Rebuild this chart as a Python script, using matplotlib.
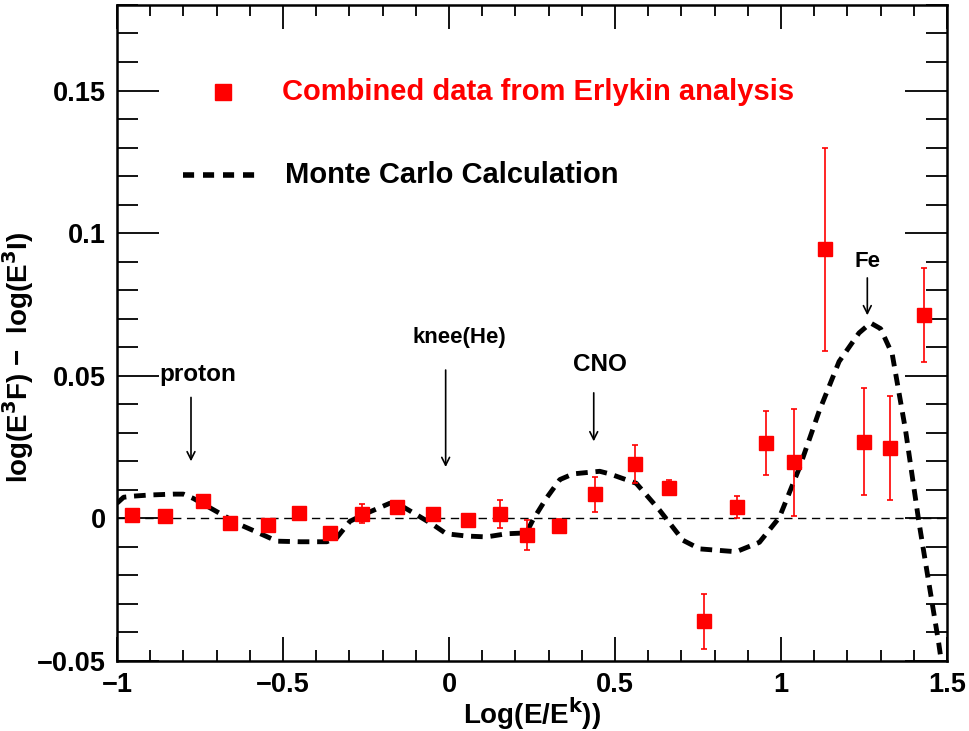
import numpy as np
import matplotlib
matplotlib.use("Agg")
import matplotlib.pyplot as plt
from matplotlib.ticker import MultipleLocator, FuncFormatter

plt.rcParams["font.family"] = ["Liberation Sans", "DejaVu Sans"]
plt.rcParams["font.weight"] = "bold"
plt.rcParams["mathtext.default"] = "bf"

# dados
x_dados = [-0.956, -0.855, -0.74, -0.66, -0.544, -0.452, -0.358, -0.261, -0.157,
           -0.047, 0.056, 0.154, 0.236, 0.33, 0.44, 0.56, 0.663, 0.767, 0.867,
           0.955, 1.038, 1.134, 1.25, 1.329, 1.43]
y_dados = [0.0012, 0.0007, 0.006, -0.0018, -0.0023, 0.002, -0.005, 0.0016, 0.004,
           0.0016, -0.0007, 0.0016, -0.0057, -0.0028, 0.0085, 0.019, 0.0108, -0.0361,
           0.004, 0.0263, 0.0196, 0.0943, 0.0269, 0.0247, 0.0713]
erro_dados = [0.0, 0.0, 0.0, 0.0012, 0.0, 0.0, 0.0, 0.0034, 0.0,
              0.0, 0.0024, 0.0049, 0.0053, 0.0025, 0.0061, 0.0066, 0.0025, 0.0097,
              0.004, 0.0112, 0.0186, 0.0356, 0.0188, 0.0182, 0.0165]

# curva Monte Carlo
x_mc = [-1.0, -0.98, -0.95, -0.9, -0.83, -0.8, -0.77, -0.7, -0.63, -0.579, -0.518,
        -0.448, -0.368, -0.338, -0.298, -0.248, -0.178, -0.148, -0.098, -0.048,
        -0.008, 0.053, 0.113, 0.173, 0.233, 0.253, 0.293, 0.334, 0.374, 0.454,
        0.484, 0.564, 0.634, 0.705, 0.755, 0.865, 0.935, 0.995, 1.055, 1.115,
        1.175, 1.235, 1.27, 1.30, 1.335, 1.375, 1.415, 1.445, 1.475, 1.49]
y_mc = [0.0053, 0.0074, 0.0078, 0.0082, 0.0085, 0.0085, 0.007, 0.0024, -0.0022,
        -0.0048, -0.008, -0.0082, -0.0082, -0.0068, -0.001, 0.0018, 0.0053, 0.0047,
        0.0013, -0.0022, -0.0054, -0.0062, -0.0065, -0.0054, -0.0051, -0.0005,
        0.007, 0.0136, 0.0156, 0.0165, 0.0156, 0.0123, 0.0029, -0.0077, -0.0107,
        -0.0117, -0.0084, 0.0003, 0.0176, 0.0376, 0.055, 0.065, 0.0685, 0.0665,
        0.0576, 0.031, -0.001, -0.0224, -0.0437, -0.056]

# anotações: texto, posição do texto, seta (x, y_topo, y_base)
rotulos = ["proton", "knee(He)", "CNO", "Fe"]
tam_rotulo = [17.5, 16, 17.5, 16]
texto_x = [-0.756, 0.030, 0.455, 1.262]
texto_y = [0.0505, 0.0634, 0.054, 0.090]
seta_x = [-0.777, -0.010, 0.436, 1.26]
seta_topo = [0.0424, 0.052, 0.044, 0.0843]
seta_base = [0.020, 0.018, 0.027, 0.0712]

fig = plt.figure(figsize=(9.69, 7.31), dpi=100)
ax = fig.add_axes([0.1207, 0.0958, 0.8566, 0.8974])

ax.axhline(0, color="black", lw=1, dashes=(6, 4), zorder=1)

linha_mc, = ax.plot(x_mc, y_mc, color="black", lw=3.5, zorder=2)
linha_mc.set_dashes((2.4, 1.6))

ax.errorbar(x_dados, y_dados, yerr=erro_dados, fmt="s", color="red", ms=10,
            mec="red", ecolor="red", elinewidth=1.2, capsize=2.5, capthick=1.2,
            zorder=3)

for txt, fs, tx, ty, sx, s1, s0 in zip(rotulos, tam_rotulo, texto_x, texto_y,
                                      seta_x, seta_topo, seta_base):
    ax.text(tx, ty, txt, ha="center", va="center", fontsize=fs, fontweight="bold")
    ax.annotate("", xy=(sx, s0), xytext=(sx, s1),
                arrowprops=dict(arrowstyle="->", lw=1.2, color="black",
                                mutation_scale=14, shrinkA=0, shrinkB=0))

# legenda manual (estilo ROOT)
ax.plot([-0.682], [0.1495], "s", color="red", ms=11)
ax.text(-0.502, 0.1495, "Combined data from Erlykin analysis", color="red",
        fontsize=21, fontweight="bold", va="center")
ax.plot([-0.8, -0.58], [0.1205, 0.1205], color="black", lw=4, dashes=(2.0, 1.6))
ax.text(-0.495, 0.1205, "Monte Carlo Calculation", color="black",
        fontsize=21, fontweight="bold", va="center")

ax.set_xlim(-1, 1.5)
ax.set_ylim(-0.05, 0.18)
ax.xaxis.set_major_locator(MultipleLocator(0.5))
ax.xaxis.set_minor_locator(MultipleLocator(0.1))
ax.yaxis.set_major_locator(MultipleLocator(0.05))
ax.yaxis.set_minor_locator(MultipleLocator(0.01))
ax.xaxis.set_major_formatter(FuncFormatter(
    lambda v, p: ("%g" % round(v, 3)).replace("-", "\u2212")))
ax.yaxis.set_major_formatter(FuncFormatter(
    lambda v, p: ("%g" % round(v, 3)).replace("-", "\u2212")))
ax.tick_params(which="both", direction="in", top=True, right=True, width=1.3,
               labelsize=19.5)
ax.tick_params(axis="x", which="major", length=17, pad=8)
ax.tick_params(axis="x", which="minor", length=8)
ax.tick_params(axis="y", which="major", length=30, pad=8)
ax.tick_params(axis="y", which="minor", length=15)
for lab in ax.get_xticklabels() + ax.get_yticklabels():
    lab.set_fontweight("bold")
for s in ax.spines.values():
    s.set_linewidth(1.8)

ax.set_xlabel("Log(E/E$^{k}$))", fontsize=20, fontweight="bold")
ax.xaxis.set_label_coords(0.5, -0.052)
ax.set_ylabel("log(E$^{3}$F) \u2212  log(E$^{3}$I)", fontsize=20, fontweight="bold")
ax.yaxis.set_label_coords(-0.098, 0.463)

fig.savefig("out.png", dpi=100)
